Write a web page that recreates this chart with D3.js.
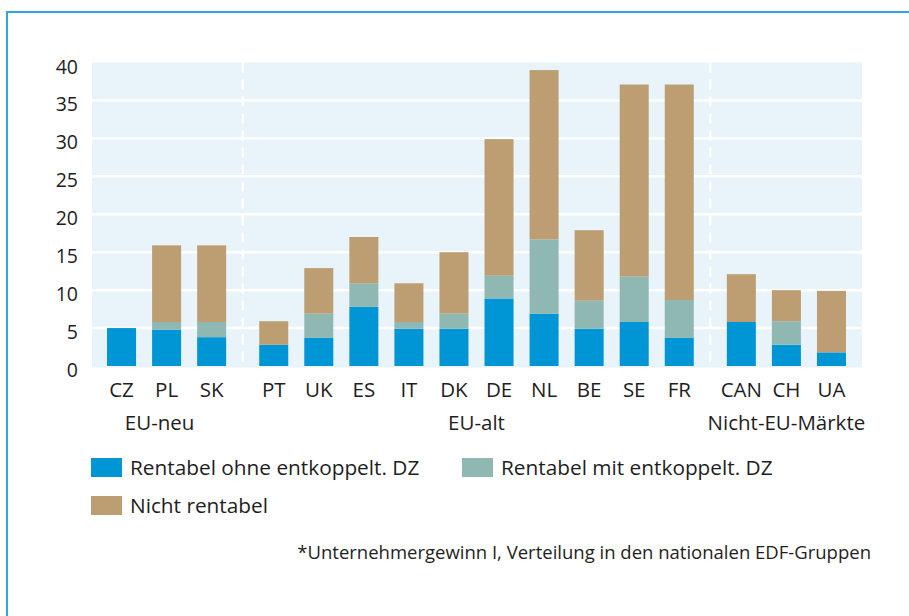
<!DOCTYPE html>
<html><head><meta charset="utf-8">
<script src="https://cdn.jsdelivr.net/npm/d3@7"></script>
<style>
html,body{margin:0;padding:0;background:#fff;}
svg{display:block;font-family:"Open Sans",sans-serif;}
</style></head>
<body>
<svg id="c" width="909" height="616"></svg>
<script>
// ---- data ----
const categories = ["CZ","PL","SK","PT","UK","ES","IT","DK","DE","NL","BE","SE","FR","CAN","CH","UA"];
const groupOf    = [0,0,0,1,1,1,1,1,1,1,1,1,1,2,2,2];
const groupNames = ["EU-neu","EU-alt","Nicht-EU-Märkte"];
const rentabelOhne = [5.0,4.8,3.8,2.8,3.7,7.8,4.9,4.9,8.9,6.9,4.9,5.8,3.7,5.8,2.8,1.8];
const rentabelMit  = [0.0,1.0,2.0,0.0,3.2,3.1,0.9,2.0,3.0,9.8,3.7,6.0,5.0,0.0,3.1,0.0];
const nichtRentabel= [0.0,10.1,10.1,3.1,6.0,6.1,5.1,8.1,18.0,22.3,9.3,25.3,28.4,6.3,4.1,8.1];
const seriesNames = ["Rentabel ohne entkoppelt. DZ","Rentabel mit entkoppelt. DZ","Nicht rentabel"];
const yTicks = [0,5,10,15,20,25,30,35,40];
const footnote = "*Unternehmergewinn I, Verteilung in den nationalen EDF-Gruppen";

const colors = ["#0096d6","#8fb8b3","#bc9e72"];
const svg = d3.select("#c");

// frame
svg.append("path").attr("d","M7,616 V12 H909").attr("fill","none")
  .attr("stroke","#2ea6de").attr("stroke-width",2);

const L=92, R=862, T=62.5, B=366;
const gapFrac = 17/45;
const pos = categories.map((c,i)=> i + groupOf[i]*gapFrac);
const x = d3.scaleLinear().domain([-29.5/45, pos[pos.length-1] + 30.5/45]).range([L,R]);
const bw = x(0.644) - x(0);
const y = d3.scaleLinear().domain([0,40]).range([B,T]);

// background
svg.append("rect").attr("x",L).attr("y",T).attr("width",R-L).attr("height",B-T+1.5).attr("fill","#e8f3fa");

// gridlines
svg.append("g").selectAll("line").data(yTicks.filter(t=>t>0&&t<40)).join("line")
  .attr("x1",L).attr("x2",R).attr("y1",d=>y(d)).attr("y2",d=>y(d))
  .attr("stroke","#fff").attr("stroke-width",2.5);

// separators
const seps = [];
for(let i=1;i<categories.length;i++) if(groupOf[i]!==groupOf[i-1]) seps.push((pos[i]+pos[i-1])/2);
svg.append("g").selectAll("line").data(seps).join("line")
  .attr("x1",d=>x(d)).attr("x2",d=>x(d)).attr("y1",T).attr("y2",B)
  .attr("stroke","#fff").attr("stroke-width",2.2).attr("stroke-dasharray","10,7");

// stacked bars
const rows = categories.map((c,i)=>({c, a:rentabelOhne[i], b:rentabelMit[i], n:nichtRentabel[i], p:pos[i]}));
const stack = d3.stack().keys(["a","b","n"])(rows);
svg.append("g").selectAll("g").data(stack).join("g").attr("fill",(d,i)=>colors[i])
  .selectAll("rect").data(d=>d.filter(s=>s[1]-s[0]>0)).join("rect")
  .attr("x",d=>x(d.data.p)-bw/2).attr("width",bw)
  .attr("y",d=>y(d[1])).attr("height",d=>y(d[0])-y(d[1]));

// y axis labels
svg.append("g").selectAll("text").data(yTicks).join("text")
  .attr("x",78).attr("y",d=>y(d)).attr("dy","0.72em").attr("transform","translate(0,-3)")
  .attr("text-anchor","end").attr("font-size",19.5).attr("fill","#1e1e1e").text(d=>d);

// category labels
svg.append("g").selectAll("text").data(rows).join("text")
  .attr("x",d=>x(d.p)).attr("y",397).attr("text-anchor","middle")
  .attr("font-size",20.5).attr("fill","#1e1e1e").text(d=>d.c);

// group labels
const groups = groupNames.map((g,gi)=>{
  const ps = pos.filter((p,i)=>groupOf[i]===gi);
  return {g, p:(d3.min(ps)+d3.max(ps))/2};
});
svg.append("g").selectAll("text").data(groups).join("text")
  .attr("x",d=>x(d.p) - (d.g==="EU-neu"?7:0)).attr("y",430).attr("text-anchor","middle")
  .attr("font-size",20.5).attr("fill","#1e1e1e").text(d=>d.g);

// legend
const leg = [{i:0,x:91,y:458},{i:1,x:462,y:458},{i:2,x:91,y:496}];
const lg = svg.append("g").selectAll("g").data(leg).join("g").attr("transform",d=>`translate(${d.x},${d.y})`);
lg.append("rect").attr("width",31).attr("height",19).attr("fill",d=>colors[d.i]);
lg.append("text").attr("x",39).attr("y",16.5).attr("font-size",20.8).attr("fill","#1e1e1e").text(d=>seriesNames[d.i]);

// footnote
svg.append("text").attr("x",871).attr("y",559).attr("text-anchor","end")
  .attr("font-size",18.5).attr("fill","#1e1e1e").text(footnote);
</script>
</body></html>
